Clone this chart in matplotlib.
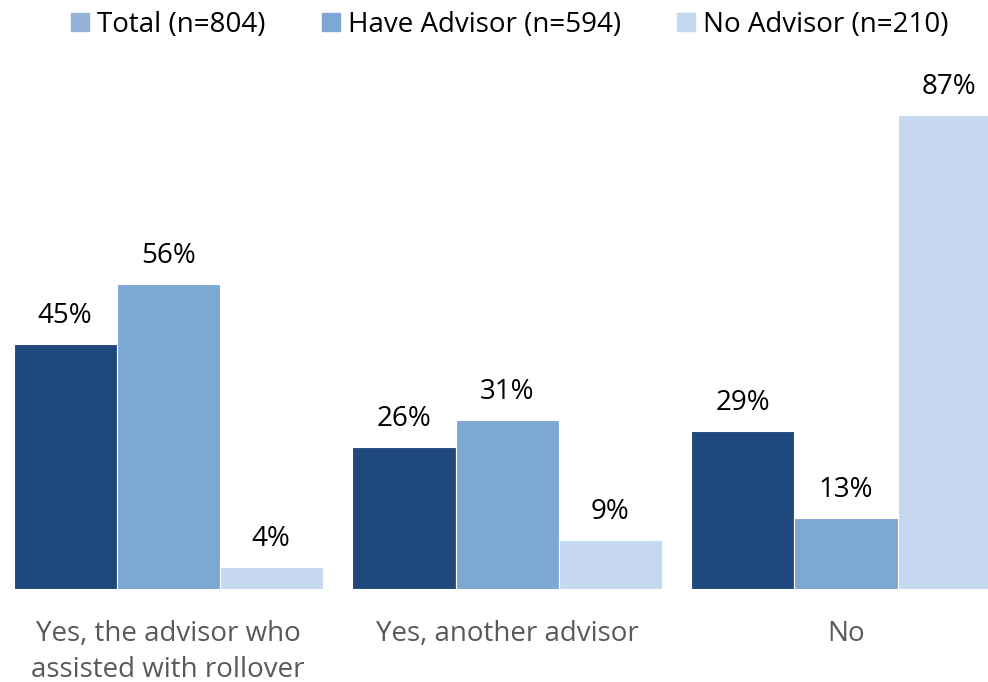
import matplotlib.pyplot as plt
import matplotlib.patches as mpatches
import numpy as np

plt.rcParams['font.family'] = ['Open Sans', 'DejaVu Sans']

categories = ['Yes, the advisor who\nassisted with rollover', 'Yes, another advisor', 'No']
series_names = ['Total (n=804)', 'Have Advisor (n=594)', 'No Advisor (n=210)']
total = [45, 26, 29]
have_advisor = [56, 31, 13]
no_advisor = [4, 9, 87]

bar_colors = ['#1F497D', '#7EA8D4', '#C6D8EF']
legend_colors = ['#95B3D7', '#7EA8D4', '#C6D8EF']

fig = plt.figure(figsize=(9.88, 6.82), dpi=100)
ax = fig.add_axes([0, 1 - 589 / 682, 1, (589 - 60) / 682])

x = np.arange(len(categories))
w = 0.304
for i, vals in enumerate([total, have_advisor, no_advisor]):
    pos = x + (i - 1) * w
    ax.bar(pos, vals, width=w, color=bar_colors[i], edgecolor='white', linewidth=0.8)
    for p, v in zip(pos, vals):
        ax.annotate(f'{v}%', (p, v), xytext=(0, 10), textcoords='offset points',
                    ha='center', va='bottom', fontsize=20, color='black')

ax.set_xlim(-0.496, 2.419)
ax.set_ylim(0, 97)
ax.set_xticks(x)
ax.set_xticklabels(categories, fontsize=20, color='#595959', linespacing=1.4)
ax.tick_params(axis='x', length=0, pad=22)
ax.set_yticks([])
for s in ax.spines.values():
    s.set_visible(False)

handles = [mpatches.Patch(color=c) for c in legend_colors]
fig.legend(handles, series_names, loc='upper center', bbox_to_anchor=(0.516, 1.021), ncol=3,
           frameon=False, fontsize=20, handlelength=0.65, handleheight=0.65,
           handletextpad=0.3, columnspacing=2.0)

fig.savefig('out.png', dpi=100)
